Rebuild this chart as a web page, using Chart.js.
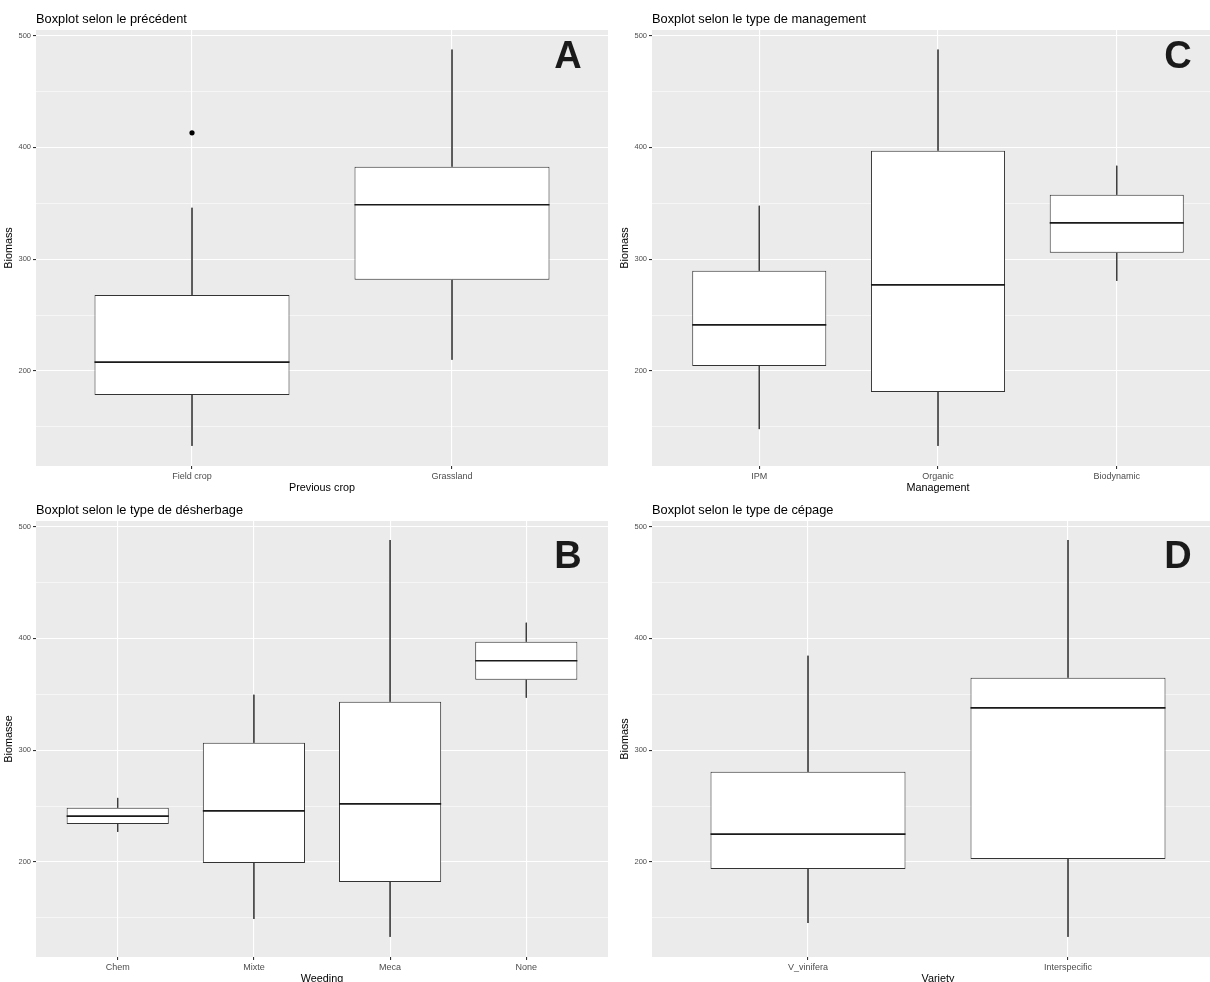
<!DOCTYPE html>
<html>
<head>
<meta charset="utf-8">
<script src="https://cdn.jsdelivr.net/npm/chart.js@4/dist/chart.umd.min.js"></script>
<style>
  html, body { margin: 0; padding: 0; background: #ffffff; overflow: hidden; width: 1210px; height: 982px; }
  canvas { position: absolute; }
</style>
</head>
<body>
<canvas id="panelA" width="608" height="500" style="left:0px;top:0px"></canvas>
<canvas id="panelC" width="608" height="500" style="left:616px;top:0px"></canvas>
<canvas id="panelB" width="608" height="500" style="left:0px;top:491px"></canvas>
<canvas id="panelD" width="608" height="500" style="left:616px;top:491px"></canvas>
<script>
// Shared biomass axis
const yTicks = [150, 200, 250, 300, 350, 400, 450, 500];
const yMin = 115;
const yMax = 505;

// A: previous crop
const cropCategories = ['Field crop', 'Grassland'];
const cropLow    = [133, 210];
const cropQ1     = [178.5, 281.5];
const cropMedian = [208, 348.7];
const cropQ3     = [268, 382.7];
const cropHigh   = [346, 487.5];
const cropOutliers = [[413], []];

// C: management type
const mgmtCategories = ['IPM', 'Organic', 'Biodynamic'];
const mgmtLow    = [148, 133, 280.6];
const mgmtQ1     = [204.5, 181.2, 305.7];
const mgmtMedian = [241.2, 277, 332.5];
const mgmtQ3     = [289.6, 397, 357.6];
const mgmtHigh   = [347.8, 487.5, 383.6];
const mgmtOutliers = [[], [], []];

// B: weeding type
const weedCategories = ['Chem', 'Mixte', 'Meca', 'None'];
const weedLow    = [226.9, 149, 133, 346.9];
const weedQ1     = [234, 199.1, 182.1, 363];
const weedMedian = [241, 245.7, 252, 380];
const weedQ3     = [248.4, 306.6, 343.3, 397];
const weedHigh   = [257.3, 349.6, 488, 414];
const weedOutliers = [[], [], [], []];

// D: grape variety
const varCategories = ['V_vinifera', 'Interspecific'];
const varLow    = [145.4, 133];
const varQ1     = [193.7, 202.7];
const varMedian = [225, 337.9];
const varQ3     = [280.6, 364.8];
const varHigh   = [384.5, 488];
const varOutliers = [[], []];

const BOX_WIDTH = 0.75;
const FONT = '"Liberation Sans", Arial, Helvetica, sans-serif';

const panelDecor = {
  id: 'panelDecor',
  beforeDraw(chart) {
    const { ctx, chartArea } = chart;
    ctx.save();
    ctx.fillStyle = '#EBEBEB';
    ctx.fillRect(chartArea.left, chartArea.top, chartArea.right - chartArea.left, chartArea.bottom - chartArea.top);
    ctx.restore();
  },
  afterDraw(chart) {
    const { ctx, chartArea } = chart;
    const o = chart.options.plugins.panelDecor;
    ctx.save();
    ctx.fillStyle = '#000000';
    ctx.font = '12.8px ' + FONT;
    ctx.textBaseline = 'middle';
    ctx.textAlign = 'left';
    ctx.fillText(o.title, chartArea.left, o.titleY);
    ctx.fillStyle = '#1a1a1a';
    ctx.font = 'bold 38px ' + FONT;
    ctx.textAlign = 'center';
    ctx.fillText(o.letter, o.letterX, o.letterY);
    ctx.restore();
  }
};

function makePanel(id, p) {
  const n = p.categories.length;
  const pos = p.categories.map((c, i) => i + 1);
  const boxes = pos.map((x, i) => ({ x: x, y: [p.q1[i], p.q3[i]] }));
  const whiskers = pos.flatMap((x, i) => [
    { x: x, y: p.high[i] }, { x: x, y: p.q3[i] }, { x: x, y: null },
    { x: x, y: p.q1[i] }, { x: x, y: p.low[i] }, { x: x, y: null }
  ]);
  const medians = pos.flatMap((x, i) => [
    { x: x - BOX_WIDTH / 2, y: p.median[i] }, { x: x + BOX_WIDTH / 2, y: p.median[i] }, { x: x, y: null }
  ]);
  const outliers = pos.flatMap((x, i) => p.outliers[i].map(v => ({ x: x, y: v })));

  return new Chart(document.getElementById(id), {
    type: 'bar',
    data: {
      datasets: [
        {
          type: 'line', label: 'median', data: medians, order: 0,
          borderColor: '#1a1a1a', borderWidth: 1.7, pointRadius: 0, spanGaps: false, fill: false
        },
        {
          type: 'scatter', label: 'outliers', data: outliers, order: 1,
          pointRadius: 2.6, backgroundColor: '#000000', borderWidth: 0
        },
        {
          type: 'bar', label: 'box', data: boxes, order: 2,
          backgroundColor: '#ffffff', borderColor: '#333333', borderWidth: 1, borderSkipped: false,
          categoryPercentage: 1, barPercentage: BOX_WIDTH
        },
        {
          type: 'line', label: 'whiskers', data: whiskers, order: 3,
          borderColor: '#333333', borderWidth: 0.8, pointRadius: 0, spanGaps: false, fill: false
        }
      ]
    },
    options: {
      responsive: false,
      animation: false,
      events: [],
      layout: { autoPadding: false, padding: { top: 30, left: 0, right: 0, bottom: 9 } },
      plugins: {
        legend: { display: false },
        tooltip: { enabled: false },
        panelDecor: { title: p.title, letter: p.letter, letterX: p.letterX, letterY: p.letterY, titleY: 19 }
      },
      scales: {
        x: {
          type: 'linear', min: 0.4, max: n + 0.6, offset: false,
          afterBuildTicks: s => { s.ticks = pos.map(v => ({ value: v })); },
          afterFit: s => { s.height = 25; },
          ticks: {
            autoSkip: false, maxRotation: 0, padding: 2,
            color: '#4D4D4D', font: { family: FONT, size: 9 },
            callback: v => p.categories[v - 1]
          },
          grid: { offset: false, color: '#ffffff', lineWidth: 1.1, tickLength: 3, tickColor: '#333333', drawTicks: true },
          border: { display: false },
          title: {
            display: true, text: p.xTitle, color: '#000000',
            font: { family: FONT, size: 10.8, lineHeight: 1 }, padding: { top: 0, bottom: -2.4 }
          }
        },
        y: {
          type: 'linear', min: yMin, max: yMax,
          afterBuildTicks: s => { s.ticks = yTicks.map(v => ({ value: v })); },
          afterFit: s => { s.width = 36; },
          ticks: {
            autoSkip: false, padding: 2,
            color: '#4D4D4D', font: { family: FONT, size: 7.5 },
            callback: v => (v % 100 === 0 ? String(v) : '')
          },
          grid: {
            color: '#ffffff',
            lineWidth: c => (c.tick && c.tick.value % 100 === 0 ? 1.1 : 0.55),
            tickLength: 3,
            tickColor: c => (c.tick && c.tick.value % 100 === 0 ? '#333333' : 'rgba(0,0,0,0)'),
            drawTicks: true
          },
          border: { display: false },
          title: {
            display: true, text: p.yTitle, color: '#000000',
            font: { family: FONT, size: 10.8, lineHeight: 1 }, padding: { top: 3.5, bottom: 0 }
          }
        }
      }
    },
    plugins: [panelDecor]
  });
}

makePanel('panelA', {
  title: 'Boxplot selon le précédent', letter: 'A', letterX: 568, letterY: 58,
  xTitle: 'Previous crop', yTitle: 'Biomass',
  categories: cropCategories, low: cropLow, q1: cropQ1, median: cropMedian, q3: cropQ3, high: cropHigh, outliers: cropOutliers
});
makePanel('panelC', {
  title: 'Boxplot selon le type de management', letter: 'C', letterX: 562, letterY: 58,
  xTitle: 'Management', yTitle: 'Biomass',
  categories: mgmtCategories, low: mgmtLow, q1: mgmtQ1, median: mgmtMedian, q3: mgmtQ3, high: mgmtHigh, outliers: mgmtOutliers
});
makePanel('panelB', {
  title: 'Boxplot selon le type de désherbage', letter: 'B', letterX: 568, letterY: 67,
  xTitle: 'Weeding', yTitle: 'Biomasse',
  categories: weedCategories, low: weedLow, q1: weedQ1, median: weedMedian, q3: weedQ3, high: weedHigh, outliers: weedOutliers
});
makePanel('panelD', {
  title: 'Boxplot selon le type de cépage', letter: 'D', letterX: 562, letterY: 67,
  xTitle: 'Variety', yTitle: 'Biomass',
  categories: varCategories, low: varLow, q1: varQ1, median: varMedian, q3: varQ3, high: varHigh, outliers: varOutliers
});
</script>
</body>
</html>
